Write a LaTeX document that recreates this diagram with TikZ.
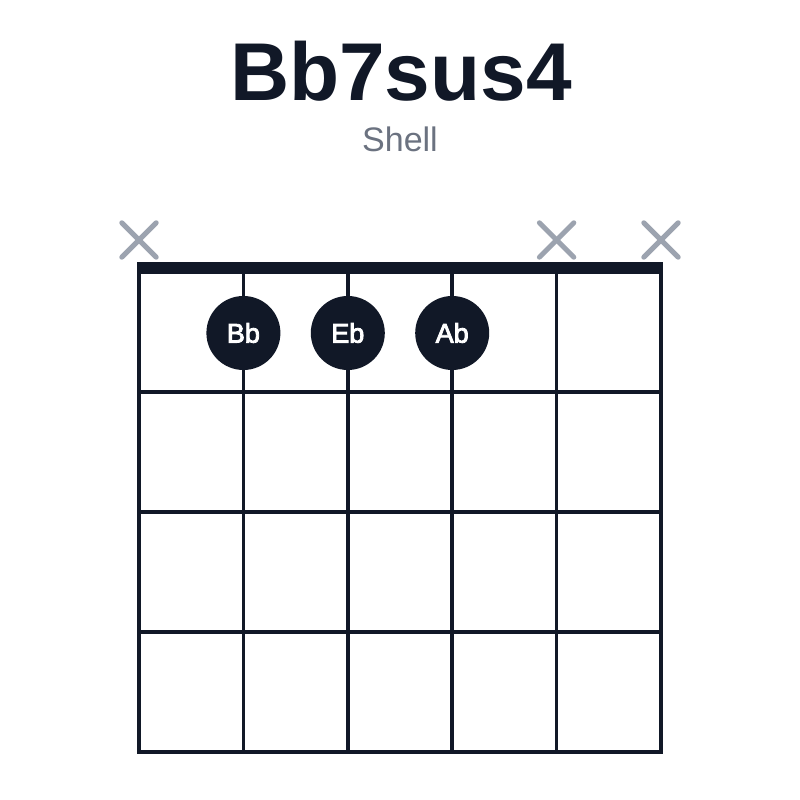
\documentclass[tikz,border=0pt]{standalone}
\usepackage{fontspec}
\setmainfont{Liberation Sans}
\newfontfamily\dotfont[FakeBold=3]{Liberation Sans}
\definecolor{ink}{HTML}{111827}
\definecolor{xgray}{HTML}{9CA3AF}
\definecolor{subgray}{HTML}{6B7280}
\begin{document}
\begin{tikzpicture}[x=1pt,y=1pt,
  gridline/.style={draw=ink,line width=3.6pt},
  nutline/.style={draw=ink,line width=12pt},
  fingerdot/.style={circle,fill=ink,minimum size=74pt,inner sep=0pt,text=white,font=\dotfont\fontsize{27}{32}\selectfont},
  mutemark/.style={draw=xgray,line width=5pt,line cap=round},
  mutenode/.style={inner sep=0pt,minimum size=34pt}]
\useasboundingbox (0,0) rectangle (800,800);
\fill[white] (0,0) rectangle (800,800);
% title
\node[anchor=base,text=ink,font=\fontsize{82}{96}\selectfont\bfseries] (title) at (401,699) {Bb7sus4};
\node[anchor=base,text=subgray,font=\fontsize{34}{40}\selectfont] (sub) at (400,648) {Shell};
% strings
\foreach \i/\x in {1/139,2/243.4,3/347.8,4/452.2,5/556.6,6/661}{
  \coordinate (s\i top) at (\x,532);
  \coordinate (s\i bot) at (\x,48);
  \draw[gridline] (s\i top) -- (s\i bot);
}
% frets
\foreach \j/\y in {1/408,2/288,3/168,4/48.2}{
  \coordinate (f\j l) at (137.2,\y);
  \coordinate (f\j r) at (662.8,\y);
  \draw[gridline] (f\j l) -- (f\j r);
}
% nut
\coordinate (nutl) at (137.2,532);
\coordinate (nutr) at (662.8,532);
\draw[nutline] (nutl) -- (nutr);
% muted strings
\foreach \i/\x in {1/139,5/556.6,6/661}{
  \node[mutenode] (m\i) at (\x,560) {};
  \draw[mutemark] (m\i.north west) -- (m\i.south east);
  \draw[mutemark] (m\i.north east) -- (m\i.south west);
}
% finger dots
\node[fingerdot] (d2) at (243.4,467) {Bb};
\node[fingerdot] (d3) at (347.8,467) {Eb};
\node[fingerdot] (d4) at (452.2,467) {Ab};
\end{tikzpicture}
\end{document}
